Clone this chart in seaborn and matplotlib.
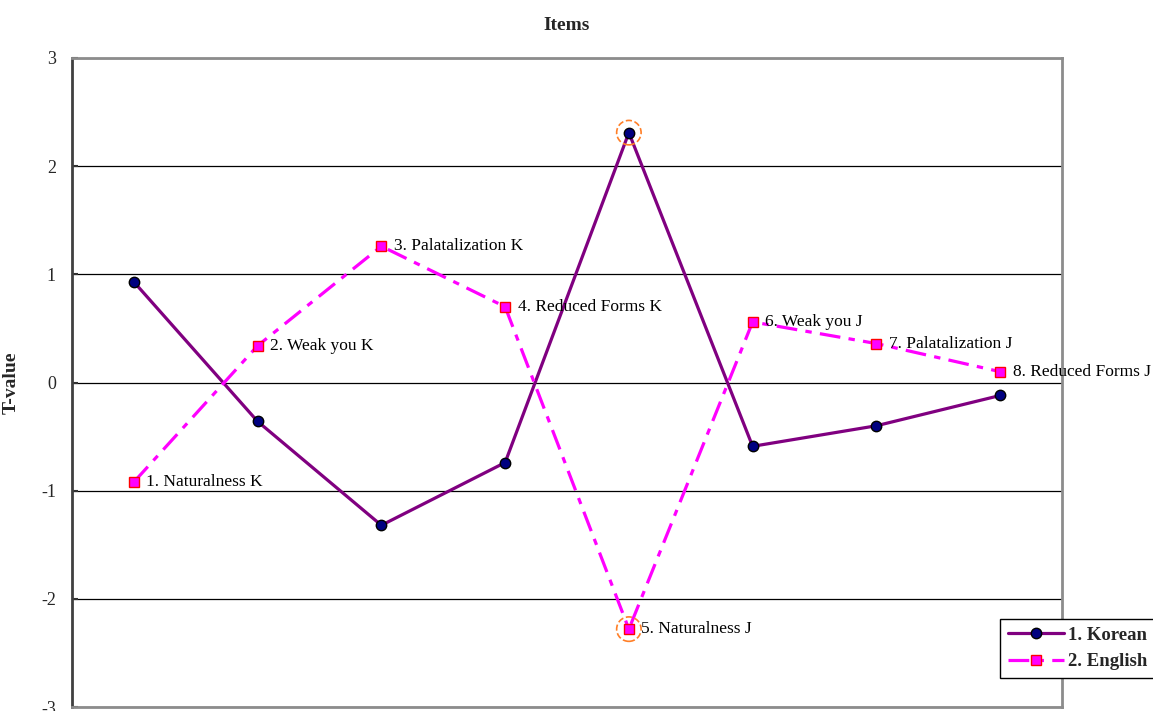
import matplotlib
matplotlib.use("Agg")
import matplotlib.pyplot as plt
import seaborn as sns
import pandas as pd
import numpy as np

# ---- data ----
items = ["1. Naturalness K", "2. Weak you K", "3. Palatalization K", "4. Reduced Forms K",
         "5. Naturalness J", "6. Weak you J", "7. Palatalization J", "8. Reduced Forms J"]
korean = [0.93, -0.36, -1.32, -0.74, 2.31, -0.59, -0.40, -0.12]
english = [-0.92, 0.34, 1.26, 0.70, -2.28, 0.56, 0.36, 0.10]
highlight_idx = [4]
y_ticks = [-3, -2, -1, 0, 1, 2, 3]

sns.set_style("white")
plt.rcParams["font.family"] = ["Liberation Serif", "DejaVu Serif"]

fig = plt.figure(figsize=(11.53, 7.11), dpi=100)
ax = fig.add_axes([72/1153, 4/711, 990/1153, 649/711])

pos = np.arange(len(items))
df_k = pd.DataFrame({"pos": pos, "val": korean})
df_e = pd.DataFrame({"pos": pos, "val": english})

sns.lineplot(data=df_k, x="pos", y="val", ax=ax, sort=False, color="#800080", lw=2.3,
             marker="o", markersize=7.5, markerfacecolor="#000080", markeredgecolor="black",
             markeredgewidth=1.0, label="1. Korean")
sns.lineplot(data=df_e, x="pos", y="val", ax=ax, sort=False, color="#FF00FF", lw=2.3,
             marker="s", markersize=6.5, markerfacecolor="#FF00FF", markeredgecolor="#FF0000",
             markeredgewidth=1.0, label="2. English")
ax.lines[1].set_dashes((6.5, 2.6, 2.0, 2.6))

# highlight circles
for i in highlight_idx:
    ax.scatter([pos[i], pos[i]], [korean[i], english[i]], s=310, facecolors="none",
               edgecolors="#FF7F27", linewidths=1.2, linestyles="--", zorder=5)

# labels next to english points
for i, lab in enumerate(items):
    ax.annotate(lab, (pos[i], english[i]), xytext=(9, 0), textcoords="offset points",
                ha="left", va="center", fontsize=12.5, color="black")

ax.set_xlim(-0.5, len(items) - 0.5)
ax.set_ylim(-3, 3)
ax.set_yticks(y_ticks)
ax.set_yticklabels([str(t) for t in y_ticks], fontsize=13)
ax.set_xticks([])
ax.set_xlabel("")
ax.set_ylabel("T-value", fontsize=14, fontweight="bold")
ax.yaxis.set_label_coords((20 - 72) / 990, 0.5)
ax.tick_params(axis="y", direction="in", length=4, width=1.5, color="#333333", pad=11.5, left=True)
ax.yaxis.grid(True, color="black", lw=0.9)
ax.set_axisbelow(True)

for side in ["top", "right", "bottom"]:
    ax.spines[side].set_color("#8c8c8c")
    ax.spines[side].set_linewidth(2)
ax.spines["left"].set_color("#404040")
ax.spines["left"].set_linewidth(2)

fig.text(567/1153, 1 - 25/711, "Items", ha="center", va="center", fontsize=14, fontweight="bold")

ax.get_legend().remove()
h, l = ax.get_legend_handles_labels()
leg = fig.legend(h, l, loc="lower left", bbox_to_anchor=(1000/1153, (711-678)/711),
                 frameon=True, fancybox=False, edgecolor="black", framealpha=1,
                 prop={"weight": "bold", "size": 13.5}, handlelength=3.0, borderpad=0.4,
                 handletextpad=0.25, labelspacing=0.5, borderaxespad=0)
leg.get_frame().set_linewidth(1.0)

fig.savefig("out.png", dpi=100)
